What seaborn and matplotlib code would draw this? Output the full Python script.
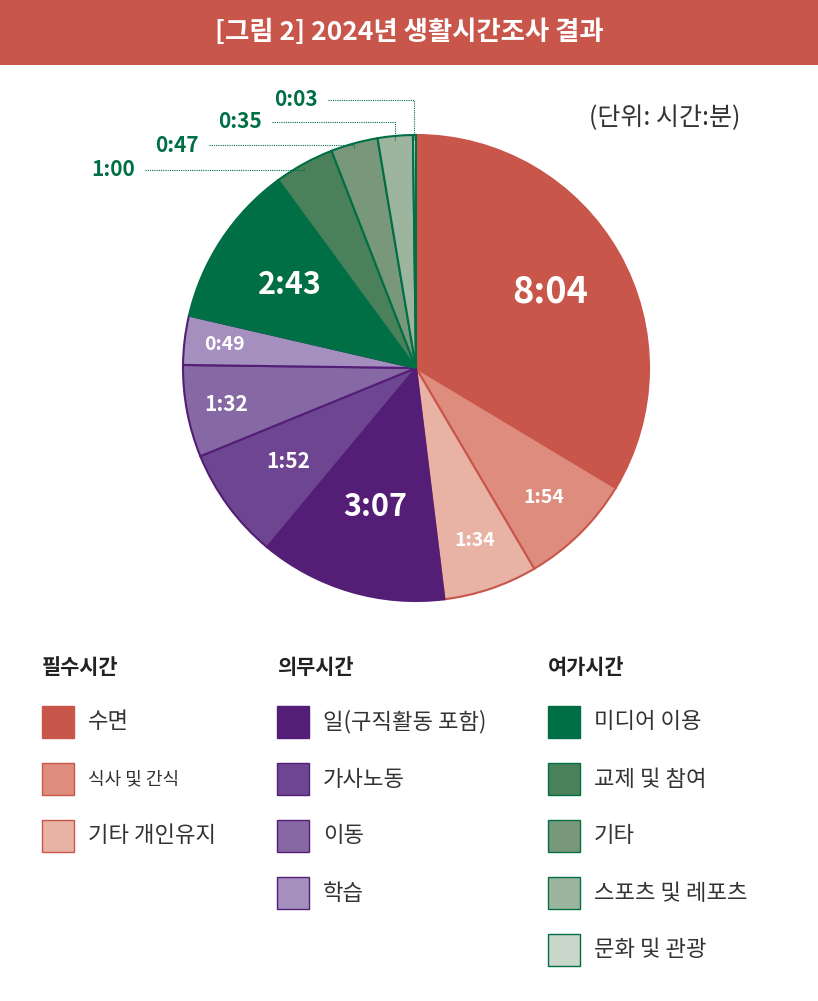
import numpy as np
import matplotlib.pyplot as plt
import seaborn as sns

sns.set_theme(style="white")
plt.rcParams["font.family"] = ["Noto Sans CJK KR", "DejaVu Sans"]

categories = ["수면", "식사 및 간식", "기타 개인유지",
              "일(구직활동 포함)", "가사노동", "이동", "학습",
              "미디어 이용", "교제 및 참여", "기타", "스포츠 및 레포츠", "문화 및 관광"]
labels = ["8:04", "1:54", "1:34", "3:07", "1:52", "1:32", "0:49",
          "2:43", "1:00", "0:47", "0:35", "0:03"]
groups = ["필수시간", "의무시간", "여가시간"]
group_sizes = [3, 4, 5]

minutes = [int(l.split(":")[0]) * 60 + int(l.split(":")[1]) for l in labels]
colors = ["#C8564A", "#DE8C7E", "#E8B2A5",
          "#541E77", "#6E4590", "#8669A4", "#A58FBF",
          "#006F45", "#4A805A", "#79977B", "#9DB59E", "#C9D6CA"]
edges = ["#C8564A"] * 3 + ["#541E77"] * 4 + ["#006F45"] * 5

W, H = 818, 1001
fig = plt.figure(figsize=(W / 100, H / 100), dpi=100)

# title bar
bar = fig.add_axes([0, 1 - 65 / H, 1, 65 / H])
bar.set_facecolor("#C8564A")
bar.set_xticks([]); bar.set_yticks([])
for s in bar.spines.values():
    s.set_visible(False)
bar.text(0.5, 0.5, "[그림 2] 2024년 생활시간조사 결과", color="white",
         fontsize=19, fontweight="bold", ha="center", va="center")

cx, cy, R = 416, 368, 233
ax = fig.add_axes([(cx - R) / W, (H - cy - R) / H, 2 * R / W, 2 * R / H])
wedges, _ = ax.pie(minutes, colors=colors, startangle=90, counterclock=False,
                   wedgeprops=dict(linewidth=1.5))
for w, e in zip(wedges, edges):
    w.set_edgecolor(e)
ax.set_xlim(-1, 1); ax.set_ylim(-1, 1)
ax.set_aspect("equal")

inner = {0: (0.66, 26, "white"), 1: (0.78, 14, "white"), 2: (0.78, 14, "white"),
         3: (0.62, 22, "white"), 4: (0.68, 15, "white"), 5: (0.83, 15, "white"),
         6: (0.83, 14, "white"), 7: (0.65, 22, "white")}
for i, w in enumerate(wedges):
    ang = np.deg2rad((w.theta1 + w.theta2) / 2)
    if i in inner:
        r, fs, c = inner[i]
        ax.text(r * np.cos(ang), r * np.sin(ang), labels[i], ha="center", va="center",
                fontsize=fs, fontweight="bold", color=c)

# outside labels for small leisure slices
outside = {8: (113, 170), 9: (177, 145), 10: (240, 122), 11: (296, 100)}
for i, (px, py) in outside.items():
    w = wedges[i]
    ang = np.deg2rad((w.theta1 + w.theta2) / 2)
    ex, ey = np.cos(ang), np.sin(ang)
    ly = (cy - py) / R
    lx_end = (px + 32 - cx) / R
    ax.plot([lx_end, ex, ex], [ly, ly, ey * 0.98], ls=(0, (1, 1)), lw=0.8,
            color="#006F45", clip_on=False)
    ax.text((px - cx) / R, ly, labels[i], ha="center", va="center", fontsize=15,
            fontweight="bold", color="#006F45", clip_on=False)

fig.text(665 / W, 1 - 118 / H, "(단위: 시간:분)", ha="center", va="center",
         fontsize=18, color="#333333")

# legend
col_x = [42, 277, 548]
start = 0
for g, (gname, n) in enumerate(zip(groups, group_sizes)):
    fig.text(col_x[g] / W, 1 - 667 / H, gname, fontsize=15, fontweight="bold",
             color="#222222", va="center")
    for k in range(n):
        i = start + k
        y = 722 + 57 * k
        fig.patches.append(plt.Rectangle((col_x[g] / W, 1 - (y + 16) / H), 32 / W, 32 / H,
                                         transform=fig.transFigure, facecolor=colors[i],
                                         edgecolor=edges[i], lw=1))
        fs = 13 if categories[i] == "식사 및 간식" else 16
        fig.text((col_x[g] + 46) / W, 1 - y / H, categories[i], fontsize=fs,
                 color="#333333", va="center")
    start += n

fig.savefig("out.png", dpi=100, facecolor="white")
